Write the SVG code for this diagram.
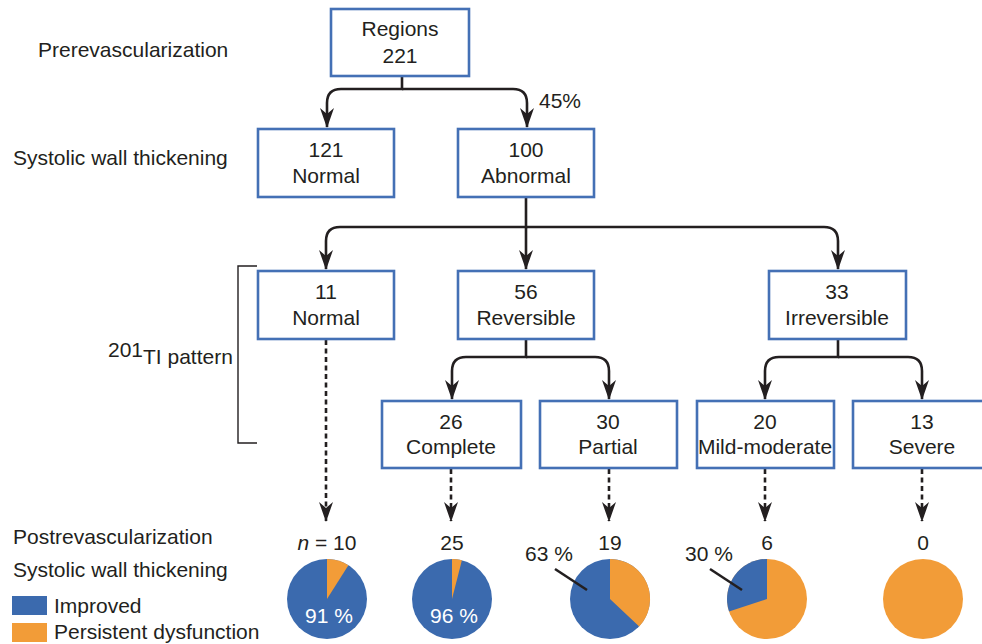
<svg xmlns="http://www.w3.org/2000/svg" width="982" height="644" viewBox="0 0 982 644">
<defs>
<style>
text{font-family:"Liberation Sans",Arial,sans-serif;font-size:21px;fill:#231f20}
.c{text-anchor:middle}
.box{fill:#fff;stroke:#4470b5;stroke-width:2.6}
.ln{fill:none;stroke:#231f20;stroke-width:2.6}
.dot{fill:none;stroke:#231f20;stroke-width:2.6;stroke-dasharray:5 3.5}
.blue{fill:#3b6aae}
.orange{fill:#f29c38}
</style>
<marker id="ah" viewBox="0 0 20 14" refX="19" refY="7" markerWidth="20" markerHeight="14" markerUnits="userSpaceOnUse" orient="auto">
<path d="M0,0 L20,7 L0,14 L6,7 Z" fill="#231f20"/>
</marker>
</defs>
<rect width="982" height="644" fill="#fff"/>

<g id="labels">
<text x="38" y="57">Prerevascularization</text>
<text x="13" y="165">Systolic wall thickening</text>
<text x="108" y="357" font-size="20">201</text>
<text x="143" y="364">TI pattern</text>
<path d="M257,266 H238 V443 H257" fill="none" stroke="#231f20" stroke-width="1.4"/>
<text x="13" y="544">Postrevascularization</text>
<text x="13" y="577">Systolic wall thickening</text>
<text x="539" y="108" font-size="20">45%</text>
</g>

<g id="connectors">
<path class="ln" d="M402,76 V89 H341 Q327,89 327,103 V127" marker-end="url(#ah)"/>
<path class="ln" d="M402,89 H513 Q527,89 527,103 V127" marker-end="url(#ah)"/>
<path class="ln" d="M526,197 V227 H340 Q326,227 326,241 V269" marker-end="url(#ah)"/>
<path class="ln" d="M526,227 V269" marker-end="url(#ah)"/>
<path class="ln" d="M526,227 H824 Q838,227 838,241 V269" marker-end="url(#ah)"/>
<path class="ln" d="M526,339 V357 H466 Q452,357 452,371 V399" marker-end="url(#ah)"/>
<path class="ln" d="M526,357 H595 Q609,357 609,371 V399" marker-end="url(#ah)"/>
<path class="ln" d="M838,339 V357 H779 Q765,357 765,371 V399" marker-end="url(#ah)"/>
<path class="ln" d="M838,357 H908 Q922,357 922,371 V399" marker-end="url(#ah)"/>
<path class="dot" d="M326,340 V521" marker-end="url(#ah)"/>
<path class="dot" d="M451,469 V521" marker-end="url(#ah)"/>
<path class="dot" d="M609,469 V521" marker-end="url(#ah)"/>
<path class="dot" d="M765,469 V521" marker-end="url(#ah)"/>
<path class="dot" d="M922,469 V521" marker-end="url(#ah)"/>
</g>

<g id="n-regions"><rect class="box" x="331" y="9" width="138" height="67"/><text class="c" x="400" y="36">Regions</text><text class="c" x="400" y="63">221</text></g>
<g id="n-normal1"><rect class="box" x="258" y="129" width="136" height="68"/><text class="c" x="326" y="157">121</text><text class="c" x="326" y="183">Normal</text></g>
<g id="n-abnormal"><rect class="box" x="458" y="129" width="136" height="68"/><text class="c" x="526" y="157">100</text><text class="c" x="526" y="183">Abnormal</text></g>
<g id="n-normal2"><rect class="box" x="258" y="271" width="136" height="68"/><text class="c" x="326" y="299">11</text><text class="c" x="326" y="325">Normal</text></g>
<g id="n-reversible"><rect class="box" x="458" y="271" width="136" height="68"/><text class="c" x="526" y="299">56</text><text class="c" x="526" y="325">Reversible</text></g>
<g id="n-irreversible"><rect class="box" x="769" y="271" width="137" height="68"/><text class="c" x="837" y="299">33</text><text class="c" x="837" y="325">Irreversible</text></g>
<g id="n-complete"><rect class="box" x="382" y="401" width="139" height="67"/><text class="c" x="451" y="429">26</text><text class="c" x="451" y="454">Complete</text></g>
<g id="n-partial"><rect class="box" x="540" y="401" width="137" height="67"/><text class="c" x="608" y="429">30</text><text class="c" x="608" y="454">Partial</text></g>
<g id="n-mild"><rect class="box" x="697" y="401" width="137" height="67"/><text class="c" x="765" y="429">20</text><text class="c" x="765" y="454">Mild-moderate</text></g>
<g id="n-severe"><rect class="box" x="853" y="401" width="138" height="67"/><text class="c" x="922" y="429">13</text><text class="c" x="922" y="454">Severe</text></g>

<g id="pie1">
<text class="c" x="327" y="550"><tspan font-style="italic">n</tspan> = 10</text>
<circle class="blue" cx="327" cy="599" r="40"/>
<path class="orange" d="M327,599 L327,559 A40,40 0 0 1 348.4,565.2 Z"/>
<text class="c" x="329" y="623" style="fill:#fff">91 %</text>
</g>
<g id="pie2">
<text class="c" x="452" y="550">25</text>
<circle class="blue" cx="452" cy="599" r="40"/>
<path class="orange" d="M452,599 L452,559 A40,40 0 0 1 461.9,560.3 Z"/>
<text class="c" x="454" y="623" style="fill:#fff">96 %</text>
</g>
<g id="pie3">
<text class="c" x="610" y="550">19</text>
<circle class="blue" cx="610" cy="599" r="40"/>
<path class="orange" d="M610,599 L610,559 A40,40 0 0 1 639.2,626.4 Z"/>
<text x="525" y="561">63 %</text>
<line x1="555" y1="569" x2="587" y2="590" stroke="#231f20" stroke-width="2.6"/>
</g>
<g id="pie4">
<text class="c" x="767" y="550">6</text>
<circle class="orange" cx="767" cy="599" r="40"/>
<path class="blue" d="M767,599 L767,559 A40,40 0 0 0 729,611.4 Z"/>
<text x="685" y="561">30 %</text>
<line x1="710" y1="569" x2="742" y2="590" stroke="#231f20" stroke-width="2.6"/>
</g>
<g id="pie5">
<text class="c" x="923" y="550">0</text>
<circle class="orange" cx="923" cy="599" r="40"/>
</g>

<g id="legend">
<rect class="blue" x="12" y="596" width="35" height="19"/>
<text x="54" y="613">Improved</text>
<rect class="orange" x="12" y="623" width="35" height="19"/>
<text x="54" y="639">Persistent dysfunction</text>
</g>
</svg>
